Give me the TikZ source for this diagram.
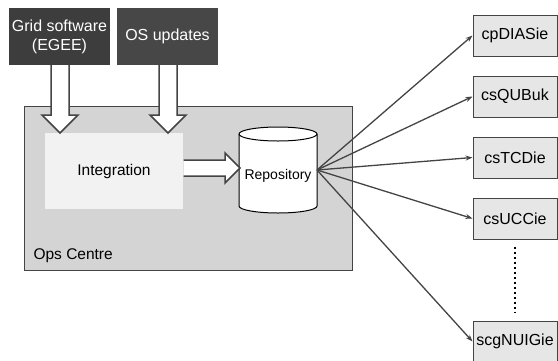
\documentclass[tikz,border=0pt]{standalone}
\usepackage{fontspec}
\setmainfont{Liberation Sans}
\usetikzlibrary{arrows.meta}
\definecolor{darkbox}{HTML}{3D3D3D}
\definecolor{darkboxb}{HTML}{474747}
\definecolor{edge}{HTML}{444444}
\definecolor{opsfill}{HTML}{D4D4D4}
\definecolor{intfill}{HTML}{F2F2F2}
\definecolor{sitefill}{HTML}{E6E6E6}
\tikzset{
  srcbox/.style={fill=darkbox, draw=none, text=white, align=center,
    font=\fontsize{16}{19}\selectfont, inner sep=0pt,
    minimum width=101pt, minimum height=57pt},
  sitebox/.style={draw=edge, line width=1pt, fill=sitefill,
    minimum width=84pt, minimum height=41pt, inner sep=0pt,
    font=\fontsize{16}{19}\selectfont},
  blockarrow/.style={draw=edge, line width=1.5pt, fill=white, line join=miter},
  feed/.style={draw=edge, line width=1.3pt,
    -{Stealth[length=7pt,width=5pt]}},
  ellipsis/.style={draw=black, line width=2.5pt, dash pattern=on 2.5pt off 2.5pt},
}
\begin{document}
\begin{tikzpicture}[x=1pt,y=-1pt]
  \useasboundingbox (0,0) rectangle (558,360);
  \clip (0,0) rectangle (558,360);

  % external sources
  \node[srcbox] (grid) at (59.5,36.5) {Grid software\\(EGEE)};
  \node[srcbox, fill=darkboxb] (os) at (167.5,36.5) {OS updates};

  % operations centre
  \node[draw=edge, line width=1pt, fill=opsfill, minimum width=328pt,
        minimum height=164pt, inner sep=0pt] (ops) at (188,188) {};
  \node[anchor=base west, font=\fontsize{15.5}{18}\selectfont] (opslabel) at (30,259) {Ops Centre};

  \node[fill=intfill, minimum width=138pt, minimum height=76pt, inner sep=0pt,
        font=\fontsize{15.5}{18}\selectfont] (integ) at (114,171) {Integration};

  % repository cylinder
  \draw[draw=black, line width=1pt, fill=white]
    (239,134) -- (239,206) arc[start angle=180, end angle=360, x radius=39pt, y radius=7pt]
    -- (317,134) arc[start angle=0, end angle=180, x radius=39pt, y radius=7pt] -- cycle;
  \draw[line width=1pt] (239,134) arc[start angle=180, end angle=360, x radius=39pt, y radius=7pt];
  \node[font=\fontsize{14}{17}\selectfont, inner sep=0pt] (repo) at (278,176) {Repository};
  \coordinate (hub) at (317,170);

  % block arrows into and out of integration
  \draw[blockarrow] (51,65) -- (51,115) -- (42,115) -- (60,133) -- (78,115) -- (69,115) -- (69,65);
  \draw[blockarrow] (159,65) -- (159,115) -- (150,115) -- (168,133) -- (186,115) -- (177,115) -- (177,65);
  \draw[blockarrow] (183.5,160) -- (225,160) -- (225,153) -- (240,168) -- (225,183) -- (225,176) -- (183.5,176);

  % sites
  \node[sitebox] (s1) at (515,35.5) {cpDIASie};
  \node[sitebox] (s2) at (515,96.5) {csQUBuk};
  \node[sitebox] (s3) at (515,157.5) {csTCDie};
  \node[sitebox] (s4) at (515,218.5) {csUCCie};
  \node[sitebox] (s5) at (515,341.5) {scgNUIGie};

  % further sites elided
  \draw[ellipsis] ([yshift=-7pt]s4.south) -- ([yshift=8pt]s5.north);

  \foreach \s in {s1,s2,s3,s4,s5}
    \draw[feed] (hub) -- (\s.west);
\end{tikzpicture}
\end{document}
